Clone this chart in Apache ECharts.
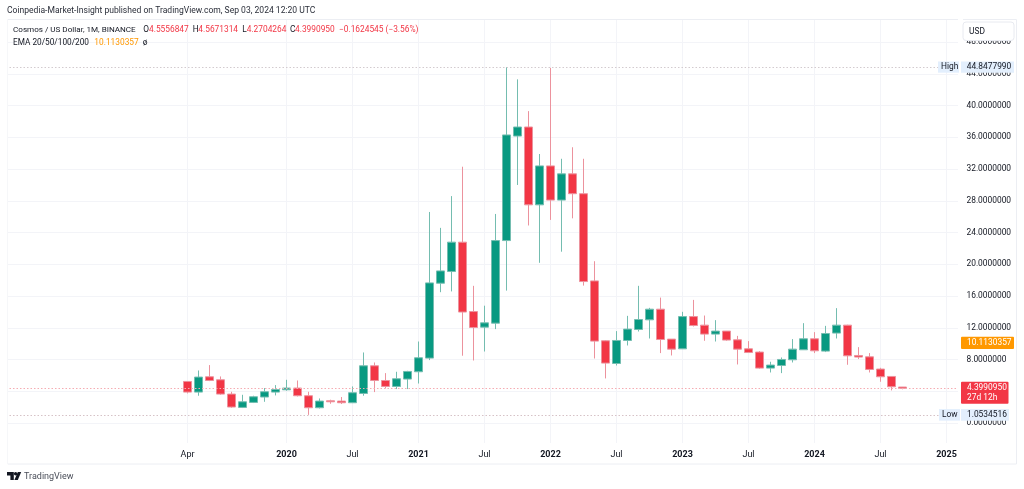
<!DOCTYPE html>
<html><head><meta charset="utf-8">
<style>html,body{margin:0;padding:0;background:#fff}#c{width:1024px;height:489px}</style>
<script src="https://cdn.jsdelivr.net/npm/echarts@6/dist/echarts.min.js"></script>
</head><body><div id="c"></div>
<script>
const categories = ['2017-12','2018-01','2018-02','2018-03','2018-04','2018-05','2018-06','2018-07','2018-08','2018-09','2018-10','2018-11','2018-12','2019-01','2019-02','2019-03',
'2019-04','2019-05','2019-06','2019-07','2019-08','2019-09','2019-10','2019-11','2019-12',
'2020-01','2020-02','2020-03','2020-04','2020-05','2020-06','2020-07','2020-08','2020-09','2020-10','2020-11','2020-12',
'2021-01','2021-02','2021-03','2021-04','2021-05','2021-06','2021-07','2021-08','2021-09','2021-10','2021-11','2021-12',
'2022-01','2022-02','2022-03','2022-04','2022-05','2022-06','2022-07','2022-08','2022-09','2022-10','2022-11','2022-12',
'2023-01','2023-02','2023-03','2023-04','2023-05','2023-06','2023-07','2023-08','2023-09','2023-10','2023-11','2023-12',
'2024-01','2024-02','2024-03','2024-04','2024-05','2024-06','2024-07','2024-08','2024-09','2024-10','2024-11','2024-12','2025-01','2025-02'];
const firstMonth = '2019-04';
const opens = [5.26,3.92,5.85,5.47,3.67,1.99,2.62,3.30,3.92,4.21,4.43,3.46,1.95,2.83,2.79,2.58,3.75,7.23,5.38,4.63,5.56,6.48,8.2,17.63,19.1,22.8,14.06,12.1,12.6,23.0,36.16,37.3,27.5,32.4,28.1,31.4,28.9,17.92,10.38,7.52,10.42,11.8,13.02,14.36,10.59,9.37,13.43,12.35,11.22,11.6,10.5,9.37,8.96,6.94,7.27,7.99,9.25,10.63,9.08,11.35,12.35,8.53,8.36,6.82,5.89,4.5556847];
const closes = [3.92,5.81,5.38,3.67,2.04,2.70,3.33,3.96,4.25,4.43,3.46,1.95,2.79,2.70,2.58,3.84,7.23,5.38,4.63,5.60,6.52,8.24,17.67,19.18,22.8,14.0,12.05,12.64,23.0,36.3,37.3,27.5,32.4,28.1,31.4,28.9,17.84,10.34,7.57,10.42,11.85,13.06,14.36,10.54,9.33,13.43,12.3,11.22,11.6,10.47,9.33,8.9,6.94,7.32,8.03,9.33,10.63,9.12,11.3,12.35,8.49,8.33,6.77,5.85,4.59,4.399095];
const lows = [3.75,3.46,5.3,3.58,1.95,1.91,2.54,2.70,3.50,4.09,3.37,1.0534516,1.86,2.45,2.42,2.54,3.46,3.92,4.38,4.30,4.3,5.0,7.95,16.5,16.6,8.5,7.9,9.03,11.85,16.7,30.0,24.9,20.2,25.6,21.6,25.8,17.33,8.15,5.64,7.27,9.79,11.55,10.67,8.83,8.53,9.37,12.18,10.38,10.29,10.38,7.4,8.9,6.86,6.39,6.31,7.65,9.25,8.83,8.96,10.67,7.36,8.08,6.39,5.22,4.13,4.2704264];
const highs = [5.26,6.64,7.32,5.89,3.96,3.58,3.46,4.43,4.80,5.47,5.38,3.96,3.12,2.96,3.30,4.63,8.91,7.65,6.31,6.48,6.6,10.29,26.6,24.6,28.6,32.3,17.3,14.8,26.35,44.847799,43.3,39.3,33.9,44.75,33.3,34.75,33.3,20.4,10.45,11.6,13.52,17.3,14.53,15.82,10.6,14.03,15.53,13.56,12.98,11.6,11.0,10.34,9.08,7.74,8.28,10.59,12.6,11.47,12.26,14.49,12.4,9.58,8.83,6.98,5.89,4.5671314];
const tickLabels = {'2019-04':'Apr','2020-01':'2020','2020-07':'Jul','2021-01':'2021','2021-07':'Jul','2022-01':'2022','2022-07':'Jul','2023-01':'2023','2023-07':'Jul','2024-01':'2024','2024-07':'Jul','2025-01':'2025'};
const priceTicks = [0,4,8,12,16,20,24,28,32,36,40,44,48];
const highPrice = 44.847799, lowPrice = 1.0534516, lastPrice = 4.399095, emaPrice = 10.1130357;
const highText='44.8477990', lowText='1.0534516', lastText='4.3990950', emaText='10.1130357', countdown='27d 12h';

const UP='#089981', DOWN='#F23645', FONT='Roboto,"Noto Sans",sans-serif', TXT='#131722';
const lead = categories.indexOf(firstMonth);
const candles = categories.map((c,i)=>{
  const k=i-lead;
  return (k>=0 && k<opens.length) ? [opens[k],closes[k],lows[k],highs[k]] : ['-','-','-','-'];
});
const isTick = (i,v)=>Object.prototype.hasOwnProperty.call(tickLabels, v);
const chart = echarts.init(document.getElementById('c'),null,{renderer:'canvas'});
const dotted=(v,color)=>({yAxis:v,lineStyle:{color,type:[1.5,2],width:1},symbol:'none',label:{show:false}});
chart.setOption({
  animation:false, backgroundColor:'#fff',
  grid:{left:6,top:19,width:957,height:424,containLabel:false},
  xAxis:{type:'category',data:categories,boundaryGap:true,
    axisLine:{show:false},axisTick:{show:false},
    splitLine:{show:true,interval:isTick,alignWithLabel:true,lineStyle:{color:'#f3f4f8',width:1}},
    axisLabel:{interval:isTick,margin:7.5,hideOverlap:false,
      formatter:v=>{const t=tickLabels[v]||'';return /^\d/.test(t)?'{y|'+t+'}':'{m|'+t+'}';},
      rich:{y:{fontFamily:FONT,fontSize:9,fontWeight:'bold',color:TXT},m:{fontFamily:FONT,fontSize:9,color:TXT}}}},
  yAxis:{type:'value',position:'right',min:-2.49,max:50.9,scale:true,
    axisLine:{show:false},
    axisTick:{show:false,customValues:priceTicks},
    splitLine:{show:true,lineStyle:{color:'#f3f4f8',width:1}},
    axisLabel:{customValues:priceTicks,margin:3.5,align:'left',fontFamily:FONT,fontSize:8.4,color:TXT,hideOverlap:false,padding:[3,0,0,0],
      formatter:v=>v.toFixed(7)}},
  series:[{type:'candlestick',data:candles,barWidth:9,
    itemStyle:{color:UP,color0:DOWN,borderColor:'#74bdb0',borderColor0:'#ec929d',borderWidth:1},
    markLine:{silent:true,symbol:'none',animation:false,data:[
      dotted(highPrice,'#d3cbcf'),dotted(lowPrice,'#d6c2c7'),dotted(lastPrice,'#f5acb3')]}}]
});
const py=v=>chart.convertToPixel({yAxisIndex:0},v);
const tx=(x,y,text,fill,extra)=>({type:'text',z:110,silent:true,style:Object.assign({x,y,text,fill,font:'8.4px '+FONT,textVerticalAlign:'middle'},extra||{})});
const box=(x,y,w,h,fill,r)=>({type:'rect',z:105,silent:true,shape:{x,y,width:w,height:h,r:r||0},style:{fill}});
const TAG='#e3effd';
const HF={font:'8.55px '+FONT}, TF={font:'8.1px '+FONT}, LF={font:'8.25px '+FONT}, NF={font:'8.35px '+FONT};
const yH=py(highPrice),yL=py(lowPrice),yP=py(lastPrice),yE=py(emaPrice);
chart.setOption({graphic:[
  box(0,0,7.5,489,'#fff'),box(958,19,5,424,'#fff'),
  box(962.5,20,52,21,'#fff'),
  {type:'rect',z:106,silent:true,shape:{x:963,y:22,width:51,height:18.5,r:3},style:{fill:'#fff',stroke:'#e8eaf0',lineWidth:1}},
  tx(969,31.5,'USD',TXT),
  {type:'rect',z:100,silent:true,shape:{x:7.5,y:19.5,width:1009,height:444.5},style:{fill:'none',stroke:'#eceef3',lineWidth:1}},
  box(938,yH-5.6,21,11.2,TAG),tx(941,yH,'High',TXT),box(961,yH-5.6,53,11.2,TAG),tx(966.7,yH,highText,TXT),
  box(939,yL-5.8,21,11.6,TAG),tx(942,yL,'Low',TXT),box(961,yL-5.8,48,11.6,TAG),tx(967,yL,lowText,TXT),
  box(961,yE-6.2,53,12.4,'#FF9800',1),tx(967,yE,emaText,'#fff'),
  box(961,yP-6.5,47.5,22,DOWN,1),tx(967,yP-.5,lastText,'#fff'),tx(967,yP+9.5,countdown,'#fff'),
  tx(7,11,'Coinpedia-Market-Insight published on TradingView.com, Sep 03, 2024 12:20 UTC','#2a2e39',HF),
  tx(13,30,'Cosmos / US Dollar, 1M, BINANCE',TXT,TF),
  tx(143.3,30,'O',TXT,NF),tx(149,30,'4.5556847',DOWN,NF),
  tx(192.7,30,'H',TXT,NF),tx(198.3,30,'4.5671314',DOWN,NF),
  tx(242.3,30,'L',TXT,NF),tx(246.7,30,'4.2704264',DOWN,NF),
  tx(290,30,'C',TXT,NF),tx(295,30,'4.3990950',DOWN,NF),
  tx(339,30,'\u22120.1624545 (\u22123.56%)',DOWN,NF),
  tx(13,42.5,'EMA 20/50/100/200',TXT,LF),tx(94.3,42.5,emaText,'#FF9800',NF),tx(142.7,42.5,'\u00f8',TXT,NF),
  {type:'polygon',z:110,silent:true,shape:{points:[[7,472],[13.8,472],[13.8,480],[10.4,480],[10.4,475.4],[7,475.4]]},style:{fill:'#131722'}},
  {type:'polygon',z:110,silent:true,shape:{points:[[17.8,472],[21.2,472],[17.8,480],[14.4,480]]},style:{fill:'#131722'}},
  {type:'circle',z:110,silent:true,shape:{cx:15.6,cy:473.7,r:1.7},style:{fill:'#131722'}},
  tx(24,476.5,'TradingView','#4a4e59',{font:'9px '+FONT})
]});
</script></body></html>
